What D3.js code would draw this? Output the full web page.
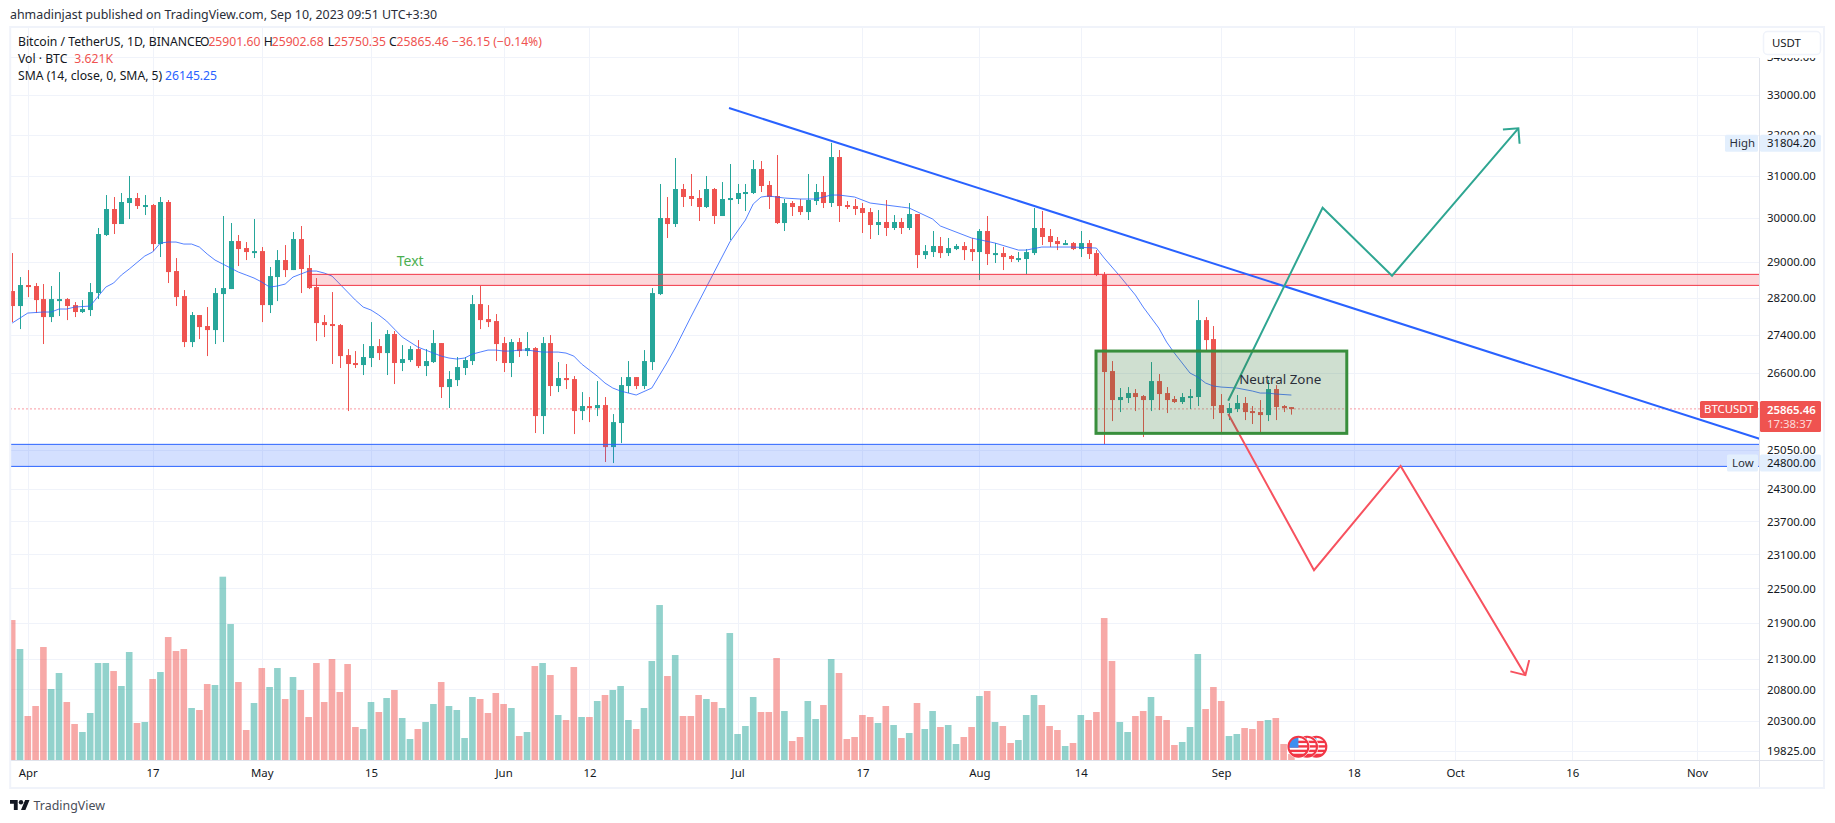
<!DOCTYPE html>
<html><head><meta charset="utf-8">
<script src="https://cdn.jsdelivr.net/npm/d3@7/dist/d3.min.js"></script>
<style>html,body{margin:0;padding:0;background:#fff}svg{display:block}text{font-family:"Noto Sans",sans-serif}</style>
</head><body><div id="c"></div>
<script>
// Day numbers count from 1 Apr 2023 = 0
const firstDay = -2;
const opens = [28345,28017,28478,28456,28169,27778,28147,28169,28038,27887,27930,28301,29606,30210,29860,30351,30469,30280,30304,29399,30375,28789,28235,27244,27822,27585,27499,28279,28389,29468,29308,29217,29239,28038,28655,29036,28811,29514,28856,28433,27670,27628,27606,26970,26804,26762,26908,27159,27012,27414,26804,26866,27096,26741,26824,27223,26308,26451,26700,26845,28060,27735,27692,27223,26804,27244,27054,27117,25722,27223,26329,26493,26472,25822,25923,25883,25943,25110,25583,26329,26513,26329,26824,28279,30000,29860,30683,30517,30469,30257,30683,30046,30422,30446,30564,30588,31163,30779,30517,29883,30351,30280,30139,30398,30612,30351,31455,30304,30280,30233,30139,29837,29907,29768,29907,29768,30093,29149,29217,29354,29194,29285,29354,29285,29217,29698,29172,29194,29127,29059,29059,29194,29768,29583,29468,29399,29422,29285,29422,29194,28700,26637,26044,26085,26186,26125,26044,26431,26186,26065,26004,26085,26105,27713,27307,25943,25782,25863,25984,25822,25802,25742,26267,25923,25901.6];
const closes = [28017,28478,28433,28147,27778,28169,28169,28017,27887,27952,28323,29629,30210,29860,30375,30469,30280,30304,29399,30375,28766,28213,27244,27822,27563,27499,28301,28411,29468,29285,29217,29239,28038,28677,29036,28811,29514,28834,28411,27649,27606,27585,26949,26783,26762,26929,27159,27012,27414,26804,26887,27096,26741,26845,27223,26308,26472,26720,26866,28060,27713,27670,27202,26804,27244,27054,27117,25722,27223,26329,26493,26451,25822,25923,25883,25943,25110,25602,26349,26513,26329,26845,28301,30000,29860,30683,30493,30446,30257,30683,30046,30446,30469,30588,30612,31163,30755,30493,29883,30351,30257,30139,30422,30612,30351,31455,30280,30257,30210,30116,29837,29907,29768,29907,29768,30093,29149,29239,29354,29194,29308,29354,29262,29217,29698,29172,29194,29104,29059,29081,29217,29768,29560,29445,29399,29422,29285,29422,29172,28700,26617,26044,26105,26186,26105,26044,26431,26166,26044,26004,26105,26125,27713,27286,25923,25782,25883,25984,25802,25782,25742,26267,25903,25883,25865.46];
const highs = [29194,28655,28811,28522,28500,28456,28766,28191,28103,28147,28522,29768,30540,30493,30588,30995,30588,30540,30328,30493,30422,29081,28367,27887,27822,27995,28411,30046,29883,29606,29445,29976,29331,28879,29262,29376,29675,29814,29149,28633,27822,28323,27628,27096,27054,27202,27670,27307,27499,27478,27180,27159,27286,27096,27499,27223,26637,26929,26929,28257,28456,28038,27843,27350,27307,27329,27456,27138,27350,27393,26824,26783,26534,26206,26105,26431,26105,25762,26513,26845,26513,27075,28411,30803,30493,31431,30803,31043,30659,30995,30707,30850,31285,30803,30803,31382,31358,30874,31504,30446,30398,30446,31043,30803,30995,31804.2,31627,30398,30446,30351,30233,30186,30422,30069,30000,30351,30093,29376,29698,29560,29537,29399,29445,29537,29744,30046,29422,29331,29149,29217,29285,30233,30163,29744,29560,29491,29445,29698,29491,29262,28766,26845,26288,26308,26267,26146,26824,26575,26308,26125,26186,26267,28147,27778,27585,26166,25984,26146,26105,25923,26044,26451,26349,25943,25902.68];
const lows = [27670,27520,28213,27865,27202,27670,27800,27713,27778,27865,27800,28169,29583,29629,29860,29976,30210,30069,29239,29104,28522,28017,27138,27138,27307,26949,27202,27244,28389,28901,29036,29081,27670,27865,28125,28655,28811,28301,28389,27265,27350,26783,26700,25822,26700,26555,26720,26866,26555,26370,26637,26824,26700,26534,26804,26085,25883,26329,26555,26762,27520,27563,26845,26617,26513,26929,26949,25385,25365,26125,26206,26267,25365,25642,25602,25722,24820,24800,25188,26186,26267,26267,26658,28257,29537,29791,30257,30280,29930,30233,29860,30046,29491,30328,30163,30564,30612,30210,29860,29698,30046,30069,29953,30304,30233,30257,29907,30210,30069,29652,29514,29606,29583,29721,29629,29721,28856,29059,29104,29081,29127,29262,29036,29014,28588,28924,28969,28811,28991,28991,28722,29149,29376,29331,29262,29376,29262,29104,29059,28677,25169,25622,25802,25984,25822,25306,25822,25842,25782,25984,25964,25863,25923,27075,25662,25405,25642,25802,25642,25563,25405,25622,25642,25802,25750.35];
const volumes = [84,66.6,26.4,32.4,67.8,42.6,52.2,34.8,21.6,16.8,28.2,58.2,58.2,53.4,44.4,64.8,22.2,22.8,48.6,52.8,73.8,65.4,66.6,31.2,30,45.6,45,110,81.6,46.8,18,34.2,55.2,43.8,55.2,36.6,49.8,42,25.8,58.2,34.8,60.6,40.8,57.6,19.8,18.6,34.8,28.8,37.2,42,25.2,12.6,18.6,22.8,33.6,46.8,32.4,30,13.2,37.8,36.6,28.2,40.2,33.6,31.2,14.4,16.8,56.4,58.2,51,27,24,55.8,25.8,25.8,35.4,39,42,44.4,24,18.6,31.2,59.4,93,50.4,63,26.4,26.4,39,36.6,34.8,31.2,76.2,15.6,20.4,37.8,28.8,28.8,61.2,29.4,11.4,13.8,35.4,24.6,33,60.6,52.2,12.6,13.8,27,25.8,22.2,32.4,21,13.2,16.2,34.2,18.6,29.4,19.8,21,9.6,13.8,19.8,38.4,41.4,22.8,20.4,10.2,12,27,39,33,20.4,18,8.4,10.2,27,24,28.8,85.2,59.4,22.8,16.8,26.4,29.4,37.8,26.4,24,9,10.8,19.8,63.6,30.6,43.8,35.4,14.4,15.6,19.2,18.6,23.4,24,25.2,9.6,3.621];
const smaDays = [-2,-1,0,2,3,4,5,6,8,10,11,12,13,15,16,17,18,19,20,21,22,23,24,25,26,27,28,29,30,31,32,33,34,35,36,37,38,39,40,41,42,43,44,45,46,47,48,49,50,51,52,53,54,55,56,57,58,59,60,61,62,63,64,65,66,67,68,69,70,71,72,73,74,75,76,78,80,82,83,85,87,89,90,92,93,94,95,97,99,101,103,104,106,108,110,112,113,116,117,119,121,124,127,128,130,134,137,138,140,142,143,145,146,147,148,149,150,151,152,153,155,157,158,159,160,162];
const smaValues = [27649,27757,27865,27887,27887,27952,27952,27995,28017,28433,28522,28700,28834,29127,29217,29422,29445,29445,29399,29399,29331,29172,29036,28946,28856,28766,28700,28633,28544,28433,28456,28500,28655,28722,28789,28789,28744,28677,28500,28323,28147,27995,27930,27822,27692,27520,27350,27244,27138,27075,27012,26949,26908,26887,26908,26991,27033,27075,27075,27054,27054,27075,27075,27054,27033,27033,27033,27012,26949,26783,26658,26534,26390,26288,26227,26146,26288,26824,27117,27778,28433,29104,29445,29953,30328,30493,30517,30469,30446,30446,30540,30540,30493,30351,30304,30257,30233,29976,29814,29675,29537,29422,29262,29262,29331,29331,29308,29081,28677,28257,27995,27542,27244,27012,26804,26596,26513,26390,26329,26308,26288,26227,26186,26186,26166,26145.25];
const priceTicks = [34000,33000,32000,31000,30000,29000,28200,27400,26600,25050,24300,23700,23100,22500,21900,21300,20800,20300,19825];
const dayTicks = [0,16,30,44,61,72,91,107,122,135,153,170,183,198,214];
const dayTickLabels = ["Apr","17","May","15","Jun","12","Jul","17","Aug","14","Sep","18","Oct","16","Nov"];
const resistanceZone = {d0:36,d1:222,p0:28715,p1:28470};
const supportZone = {d0:-3,d1:222,p0:25163,p1:24736};
const neutralBox = {d0:136.95,d1:169.1,p0:27054,p1:25379};
const trendLine = [[89.9,32676],[222,25272]];
const bullPath = [[153.9,26030],[166,30240],[174.9,28684],[191.1,32165]];
const bearPath = [[153.9,25762],[164.9,22820],[176,24746],[192,21033]];
const neutralLabel = {d:155.3,p:26465,t:"Neutral Zone"};
const zoneLabel = {d:47.3,p:29020,t:"Text"};
const lastPrice = 25865.46, highPrice = 31804.20, lowPrice = 24800;
const flagDays = [165.2,164,162.9];

const W=1835,H=823, AX=1759.5, BOT=760.5, LEFT=10.5, TOP=28;
const UP="#26a69a",DN="#ef5350",GRID="#f0f3fa",LINE="#e0e3eb",TXT="#131722",BLUE="#2962ff",RED="#f23645";
const svg=d3.select("#c").append("svg").attr("width",W).attr("height",H).attr("viewBox",`0 0 ${W} ${H}`);
const x=d3.scaleLinear().domain([0,214]).range([27.8,1697]);
const y=d3.scaleLog().domain([19825,33000]).range([751.3,95.3]);
const yv=d3.scaleLinear().domain([0,110]).range([760,576.7]);
const fmt=d3.format(".2f");
const fs=11.4;

svg.append("defs").append("clipPath").attr("id","plot").append("rect").attr("x",LEFT).attr("y",TOP).attr("width",AX-LEFT).attr("height",BOT-TOP);

// Header
svg.append("text").attr("x",10).attr("y",19).attr("font-size",12.4).attr("fill","#2a2e39").text("ahmadinjast published on TradingView.com, Sep 10, 2023 09:51 UTC+3:30");

const plot=svg.append("g").attr("clip-path","url(#plot)");
// Grid
plot.append("g").selectAll("line").data(priceTicks).join("line").attr("x1",LEFT).attr("x2",AX).attr("y1",d=>Math.round(y(d))+.5).attr("y2",d=>Math.round(y(d))+.5).attr("stroke",GRID);
plot.append("g").selectAll("line").data(dayTicks).join("line").attr("x1",d=>Math.round(x(d))+.5).attr("x2",d=>Math.round(x(d))+.5).attr("y1",TOP).attr("y2",BOT).attr("stroke",GRID);

const days=opens.map((_,i)=>i+firstDay);
const col=i=>closes[i]>=opens[i]?UP:DN;
// Volume
plot.append("g").selectAll("rect").data(days).join("rect")
 .attr("x",(d)=>x(d)-3.3).attr("width",6.6).attr("y",(d,i)=>yv(volumes[i])).attr("height",(d,i)=>760-yv(volumes[i]))
 .attr("fill",(d,i)=>col(i)).attr("fill-opacity",.5);
// Price dotted
plot.append("line").attr("x1",LEFT).attr("x2",AX).attr("y1",y(lastPrice)).attr("y2",y(lastPrice)).attr("stroke",RED).attr("stroke-dasharray","1 3");
// Candles
const cg=plot.append("g");
cg.selectAll("line").data(days).join("line").attr("x1",d=>Math.round(x(d))+.5).attr("x2",d=>Math.round(x(d))+.5).attr("y1",(d,i)=>y(highs[i])).attr("y2",(d,i)=>y(lows[i])).attr("stroke",(d,i)=>col(i));
cg.selectAll("rect").data(days).join("rect").attr("x",d=>Math.round(x(d))-2).attr("width",5)
 .attr("y",(d,i)=>y(Math.max(opens[i],closes[i])))
 .attr("height",(d,i)=>Math.max(2,Math.abs(y(opens[i])-y(closes[i])))).attr("fill",(d,i)=>col(i));
// SMA
const smaLine=d3.line().x(d=>x(d[0])).y(d=>y(d[1]));
plot.append("path").datum(smaDays.map((d,i)=>[d,smaValues[i]])).attr("d",smaLine).attr("fill","none").attr("stroke",BLUE).attr("stroke-opacity",.8).attr("stroke-width",1);
// Zones
function zone(z,stroke,fill){
 plot.append("rect").attr("x",x(z.d0)).attr("width",x(z.d1)-x(z.d0)).attr("y",y(z.p0)).attr("height",y(z.p1)-y(z.p0)).attr("fill",fill);
 [z.p0,z.p1].forEach(p=>plot.append("line").attr("x1",x(z.d0)).attr("x2",x(z.d1)).attr("y1",y(p)).attr("y2",y(p)).attr("stroke",stroke));
}
zone(resistanceZone,RED,"rgba(242,54,69,.2)");
zone(supportZone,BLUE,"rgba(41,98,255,.2)");
// Trend
plot.append("path").datum(trendLine).attr("d",smaLine).attr("fill","none").attr("stroke",BLUE).attr("stroke-width",2);
// Zig-zag arrows
function arrow(pts,color){
 plot.append("path").datum(pts).attr("d",smaLine).attr("fill","none").attr("stroke",color).attr("stroke-width",2).attr("stroke-linejoin","miter");
 const n=pts.length,a=[x(pts[n-1][0]),y(pts[n-1][1])],b=[x(pts[n-2][0]),y(pts[n-2][1])];
 const th=Math.atan2(b[1]-a[1],b[0]-a[0]),L=15.5;
 const tips=[th+Math.PI/4,th-Math.PI/4].map(t=>[a[0]+L*Math.cos(t),a[1]+L*Math.sin(t)]);
 plot.append("path").attr("d",d3.line()([tips[0],a,tips[1]])).attr("fill","none").attr("stroke",color).attr("stroke-width",2);
}
arrow(bullPath,"#2fa692");
arrow(bearPath,"#f7525f");
// Neutral box
plot.append("rect").attr("x",x(neutralBox.d0)).attr("width",x(neutralBox.d1)-x(neutralBox.d0)).attr("y",y(neutralBox.p0)).attr("height",y(neutralBox.p1)-y(neutralBox.p0))
 .attr("fill","rgba(56,120,60,.24)").attr("stroke","#388e3c").attr("stroke-width",3);
plot.append("text").attr("x",x(neutralLabel.d)).attr("y",y(neutralLabel.p)).attr("dy",".35em").attr("font-size",13.4).attr("fill","#2a2e39").text(neutralLabel.t);
plot.append("text").attr("x",x(zoneLabel.d)).attr("y",y(zoneLabel.p)).attr("dy",".35em").attr("font-size",14).attr("fill","#4caf50").text(zoneLabel.t);

// Flags
const flags=svg.append("g");
const fdefs=svg.select("defs");
flagDays.forEach((d,i)=>{
 const cx=x(d),cy=746.7,r=10,id="fl"+i;
 fdefs.append("clipPath").attr("id",id).append("circle").attr("cx",cx).attr("cy",cy).attr("r",r);
 const g=flags.append("g");
 g.append("circle").attr("cx",cx).attr("cy",cy).attr("r",r+1.5).attr("fill","#fff");
 const c=g.append("g").attr("clip-path",`url(#${id})`);
 c.append("rect").attr("x",cx-r).attr("y",cy-r).attr("width",2*r).attr("height",2*r).attr("fill","#fff");
 [-6,-1.5,3,7].forEach(o=>c.append("rect").attr("x",cx-r).attr("y",cy+o).attr("width",2*r).attr("height",2.4).attr("fill","#f23645"));
 c.append("rect").attr("x",cx-r).attr("y",cy-r).attr("width",r).attr("height",r+1).attr("fill","#3d8ef0");
 g.append("circle").attr("cx",cx).attr("cy",cy).attr("r",r).attr("fill","none").attr("stroke","#f23645").attr("stroke-width",2);
});

// Axes
const axY=svg.append("g").attr("transform",`translate(${AX},0)`).call(d3.axisRight(y).tickValues(priceTicks).tickFormat(d=>fmt(d)).tickSize(0).tickPadding(7.6));
axY.select(".domain").remove();
axY.selectAll("text").attr("font-size",fs).attr("fill",TXT).style("font-family",'"Noto Sans",sans-serif');
const axX=svg.append("g").attr("transform",`translate(0,${BOT})`).call(d3.axisBottom(x).tickValues(dayTicks).tickFormat((d,i)=>dayTickLabels[i]).tickSize(0).tickPadding(8));
axX.select(".domain").remove();
axX.selectAll("text").attr("font-size",fs).attr("fill",TXT).style("font-family",'"Noto Sans",sans-serif');

svg.append("rect").attr("x",AX+.5).attr("y",TOP).attr("width",63).attr("height",30).attr("fill","#fff");
svg.append("line").attr("x1",AX).attr("x2",AX).attr("y1",58).attr("y2",788).attr("stroke",LINE);
svg.append("line").attr("x1",LEFT).attr("x2",1824).attr("y1",BOT).attr("y2",BOT).attr("stroke",LINE);
svg.append("rect").attr("x",10.2).attr("y",27).attr("width",1813.8).attr("height",761).attr("fill","none").attr("stroke",GRID).attr("stroke-width",2);

// USDT button
svg.append("rect").attr("x",1763.5).attr("y",31.5).attr("width",57).attr("height",23).attr("rx",4).attr("fill","#fff").attr("stroke",GRID).attr("stroke-width",1.5);
svg.append("text").attr("x",1772).attr("y",43.5).attr("dy",".35em").attr("font-size",fs).attr("fill",TXT).text("USDT");

// Price labels
function pill(x0,w,yc,h,fill,txt,tc,xt){
 svg.append("rect").attr("x",x0).attr("y",yc-h/2).attr("width",w).attr("height",h).attr("rx",1.5).attr("fill",fill);
 svg.append("text").attr("x",xt).attr("y",yc).attr("dy",".35em").attr("font-size",fs).attr("fill",tc).text(txt);
}
const PALE="#e3effd";
pill(1725,33,y(highPrice)+.5,17,PALE,"High","#2a2e39",1729.5);
pill(1760,61,y(highPrice)+.5,17,PALE,fmt(highPrice),TXT,1767);
pill(1727,31,y(lowPrice),17,PALE,"Low","#2a2e39",1732);
pill(1760,61,y(lowPrice),17,PALE,fmt(lowPrice),TXT,1767);
pill(1700,58,y(lastPrice)+.5,17,DN,"BTCUSDT","#fff",1704);
svg.append("rect").attr("x",1760).attr("y",401).attr("width",61).attr("height",31).attr("rx",1.5).attr("fill",DN);
svg.append("text").attr("x",1767).attr("y",410).attr("dy",".35em").attr("font-size",fs).attr("font-weight",600).attr("fill","#fff").text(fmt(lastPrice));
svg.append("text").attr("x",1767).attr("y",424).attr("dy",".35em").attr("font-size",fs).attr("fill","#fff").attr("fill-opacity",.8).text("17:38:37");

// Legend
function tx(xp,yp,s,c){svg.append("text").attr("x",xp).attr("y",yp).attr("dy",".35em").attr("font-size",12.2).attr("fill",c).text(s);}
const V=DN;
tx(18,41.7,"Bitcoin / TetherUS, 1D, BINANCE",TXT);
tx(200,41.7,"O",TXT);tx(208.4,41.7,"25901.60",V);
tx(263.7,41.7,"H",TXT);tx(271.7,41.7,"25902.68",V);
tx(327.8,41.7,"L",TXT);tx(334,41.7,"25750.35",V);
tx(389,41.7,"C",TXT);tx(396.6,41.7,"25865.46",V);
tx(452,41.7,"−36.15 (−0.14%)",V);
tx(18,58.7,"Vol · BTC",TXT);tx(74.3,58.7,"3.621K",V);
tx(18,76,"SMA (14, close, 0, SMA, 5)",TXT);tx(165,76,"26145.25",BLUE);

// Logo
const logo=svg.append("g").attr("transform","translate(10,797.8) scale(.55)").attr("fill","#131722");
logo.append("path").attr("d","M14 22H7V11H0V4h14v18zM28 22h-8l7.5-18h8L28 22z");
logo.append("circle").attr("cx",20).attr("cy",8).attr("r",4);
svg.append("text").attr("x",33.6).attr("y",805.5).attr("dy",".35em").attr("font-size",12.4).attr("fill","#4a4e59").text("TradingView");
</script></body></html>
